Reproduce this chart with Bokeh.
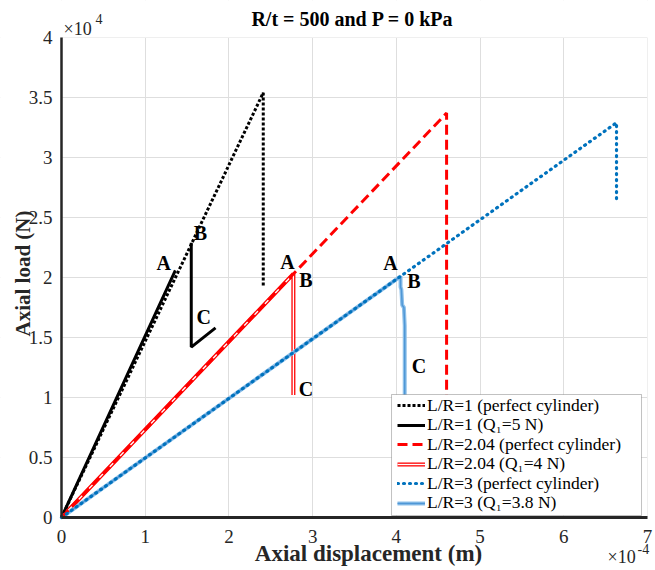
import math
from bokeh.plotting import figure
from bokeh.models import (Range1d, FixedTicker, Legend, LegendItem, Label,
                          LinearAxis, Grid, BoxAnnotation)
from bokeh.embed import file_html
from bokeh.resources import INLINE

# ---------------- data (displacement in 1e-4 m, load in 1e4 N) ----------------
lr1_perf_disp = [0.0, 2.41, 2.41]
lr1_perf_load = [0.0, 3.54, 1.93]

lr1_q_disp = [0.0, 1.36, float("nan"), 1.55, 1.55, 1.84]
lr1_q_load = [0.0, 2.06, float("nan"), 2.29, 1.42, 1.58]

lr204_perf_disp = [0.0, 4.60, 4.60]
lr204_perf_load = [0.0, 3.37, 0.50]

lr204_q_disp = [0.0, 2.77, 2.77]
lr204_q_load = [0.0, 2.03, 1.02]

lr3_perf_disp = [0.0, 6.63, 6.63]
lr3_perf_load = [0.0, 3.29, 2.64]

lr3_q_disp = [0.0, 4.05, 4.05, 4.06, 4.07, 4.09, 4.10, 4.10]
lr3_q_load = [0.0, 2.01, 1.92, 1.90, 1.77, 1.75, 1.60, 0.95]

x_ticks = [0, 1, 2, 3, 4, 5, 6, 7]
y_ticks = [0, 0.5, 1, 1.5, 2, 2.5, 3, 3.5, 4]
y_tick_labels = ["0", "0.5", "1", "1.5", "2", "2.5", "3", "3.5", "4"]

legend_labels = [
    "L/R=1 (perfect cylinder)",
    "L/R=1 (Q\u2081=5 N)",
    "L/R=2.04 (perfect cylinder)",
    "L/R=2.04 (Q\u2081=4 N)",
    "L/R=3 (perfect cylinder)",
    "L/R=3 (Q\u2081=3.8 N)",
]

point_labels = ["A", "B", "C", "A", "B", "C", "A", "B", "C"]
point_label_x = [1.22, 1.66, 1.70, 2.70, 2.92, 2.92, 3.93, 4.21, 4.27]
point_label_y = [2.12, 2.37, 1.67, 2.13, 1.98, 1.07, 2.12, 1.97, 1.26]

# ---------------- figure ----------------
SERIF = "Liberation Serif"
TXT = "#262626"
X0, X1 = 0, 7
Y0, Y1 = 0, 4
PX_X = 83.71   # canvas pixels per x unit
PX_Y = 120.0   # canvas pixels per y unit
LEFT_PX, BOTTOM_PX = 61, 517  # canvas position of the data origin

# frame covers the whole canvas; axes sit at fixed data locations
p = figure(width=655, height=570, output_backend="svg", toolbar_location=None,
           x_range=Range1d(-LEFT_PX / PX_X, X1 + 8 / PX_X),
           y_range=Range1d(-(570 - BOTTOM_PX) / PX_Y, Y1 + 37 / PX_Y),
           x_axis_type=None, y_axis_type=None,
           min_border=0, min_border_left=0, min_border_right=0,
           min_border_top=0, min_border_bottom=0)
p.outline_line_color = None
p.background_fill_color = "white"
p.border_fill_color = "white"


def dx(px):
    return (px - LEFT_PX) / PX_X


def dy(py):
    return (BOTTOM_PX - py) / PX_Y


xt = FixedTicker(ticks=x_ticks)
yt = FixedTicker(ticks=y_ticks)

p.add_layout(Grid(dimension=0, ticker=xt, grid_line_color="#dedede",
                  grid_line_width=1))
p.add_layout(Grid(dimension=1, ticker=yt, grid_line_color="#dedede",
                  grid_line_width=1))
# mask grid outside the axes box
for kw in (dict(top=Y0), dict(bottom=Y1), dict(right=X0), dict(left=X1)):
    p.add_layout(BoxAnnotation(fill_color="white", fill_alpha=1, line_color=None,
                               level="underlay", **kw))

xaxis = LinearAxis(fixed_location=0, bounds=(X0, X1), ticker=xt)
yaxis = LinearAxis(fixed_location=0, bounds=(Y0, Y1), ticker=yt,
                   major_label_overrides={t: s for t, s in zip(y_ticks, y_tick_labels)})
for ax in (xaxis, yaxis):
    ax.axis_line_color = TXT
    ax.major_tick_line_color = None
    ax.minor_tick_line_color = None
    ax.major_label_text_font = SERIF
    ax.major_label_text_font_size = "19px"
    ax.major_label_text_color = TXT
xaxis.axis_line_width = 3
yaxis.axis_line_width = 2.5
xaxis.major_label_standoff = 6
yaxis.major_label_standoff = 3
p.add_layout(xaxis, "below")
p.add_layout(yaxis, "left")

# ---------------- lines ----------------
r_bq = p.line(lr1_q_disp, lr1_q_load, line_color="black", line_width=3)
r_rq1 = p.line(lr204_q_disp, lr204_q_load, line_color="#ff0000", line_width=4)
r_rq2 = p.line(lr204_q_disp, lr204_q_load, line_color="white", line_width=1.4)
r_uq1 = p.line(lr3_q_disp, lr3_q_load, line_color="#8fc1ea", line_width=4)
r_uq2 = p.line(lr3_q_disp, lr3_q_load, line_color="#4f97d6", line_width=1.5)

r_bp = p.line(lr1_perf_disp, lr1_perf_load, line_color="black", line_width=3,
              line_dash="3 2")
r_rp = p.line(lr204_perf_disp, lr204_perf_load, line_color="#ff0000", line_width=3,
              line_dash="10 5")
r_up = p.line(lr3_perf_disp, lr3_perf_load, line_color="#0072bd", line_width=3.2,
              line_dash="1 5", line_cap="round")

# ---------------- point labels ----------------
for t, x, y in zip(point_labels, point_label_x, point_label_y):
    p.add_layout(Label(x=x, y=y, text=t, text_font=SERIF, text_font_size="20px",
                       text_font_style="bold", text_color="black",
                       text_align="center", text_baseline="middle"))

# ---------------- legend (one row per Legend to get a tight row pitch) ----------------
p.add_layout(BoxAnnotation(left=dx(391), right=dx(641), top=dy(394), bottom=dy(515),
                           fill_color="white", fill_alpha=1,
                           line_color="#333333", line_width=1))
legend_renderers = [[r_bp], [r_bq], [r_rp], [r_rq1, r_rq2], [r_up], [r_uq1, r_uq2]]
ROW0, PITCH, ROW_H = 406.0, 19.5, 19.4
for i, (lab, rs) in enumerate(zip(legend_labels, legend_renderers)):
    center = ROW0 + i * PITCH
    lg = Legend(items=[LegendItem(label=lab, renderers=rs)],
                location=(397, 570 - center - ROW_H / 2))
    lg.label_text_font = SERIF
    lg.label_text_font_size = "17.5px"
    lg.label_text_color = "black"
    lg.label_standoff = 2
    lg.glyph_width = 28
    lg.glyph_height = 16
    lg.label_height = 16
    lg.padding = 0
    lg.margin = 0
    lg.border_line_color = None
    lg.background_fill_alpha = 0
    p.add_layout(lg, "center")

# ---------------- titles / axis labels ----------------
p.add_layout(Label(x=dx(352), y=dy(18), text="R/t = 500 and P = 0 kPa", text_font=SERIF,
                   text_font_size="20px", text_font_style="bold", text_color="black",
                   text_align="center", text_baseline="middle"))
p.add_layout(Label(x=dx(368), y=dy(553), text="Axial displacement (m)", text_font=SERIF,
                   text_font_size="23px", text_font_style="bold", text_color=TXT,
                   text_align="center", text_baseline="middle"))
p.add_layout(Label(x=dx(22), y=dy(273), text="Axial load (N)", text_font=SERIF,
                   text_font_size="21px", text_font_style="bold", text_color=TXT,
                   text_align="center", text_baseline="middle", angle=math.pi / 2))
# multipliers
p.add_layout(Label(x=dx(63), y=dy(28), text="\u00d710", text_font=SERIF,
                   text_font_size="18px", text_color=TXT,
                   text_align="left", text_baseline="middle"))
p.add_layout(Label(x=dx(95), y=dy(18), text="4", text_font=SERIF,
                   text_font_size="14px", text_color=TXT,
                   text_align="left", text_baseline="middle"))
p.add_layout(Label(x=dx(607), y=dy(556), text="\u00d710", text_font=SERIF,
                   text_font_size="18px", text_color=TXT,
                   text_align="left", text_baseline="middle"))
p.add_layout(Label(x=dx(637), y=dy(548), text="-4", text_font=SERIF,
                   text_font_size="14px", text_color=TXT,
                   text_align="left", text_baseline="middle"))

open("out.html", "w").write(file_html(p, INLINE))
